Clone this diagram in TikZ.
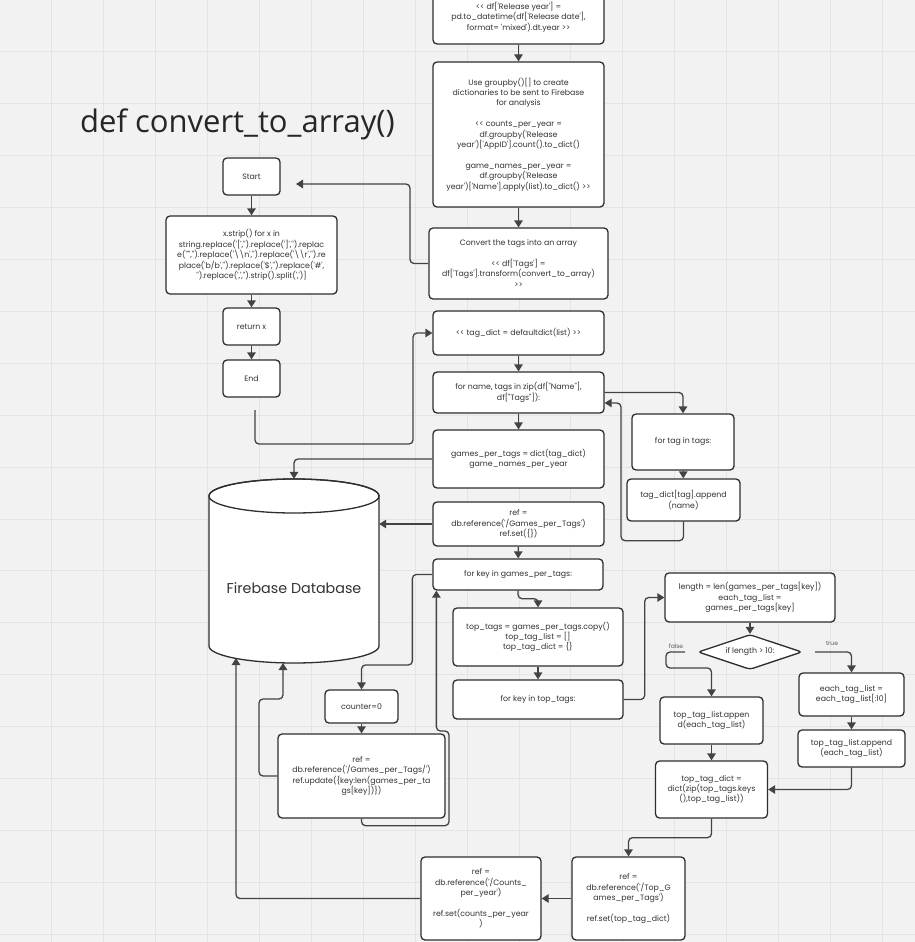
\documentclass[tikz,border=0pt]{standalone}
\usepackage{fontspec}
\newfontfamily\pop{Poppins}
\newfontfamily\osans{Open Sans}
\usetikzlibrary{arrows.meta,shapes.geometric}
\definecolor{bgc}{HTML}{F2F2F2}
\definecolor{gridc}{HTML}{E4E4E4}
\definecolor{ink}{HTML}{2E2E2E}
\definecolor{txt}{HTML}{333333}
\tikzset{
  box/.style={draw=ink, line width=1.3pt, fill=white, rounded corners=4pt, align=center,
    inner sep=2pt, text=txt, font=\pop\fontsize{7.8}{10.4}\selectfont},
  arr/.style={draw=ink!90, line width=1.3pt, rounded corners=4pt,
    -{Triangle[width=8.5pt,length=7pt]}},
  lbl/.style={text=txt!80, font=\pop\fontsize{6}{7}\selectfont, inner sep=0pt}
}
\begin{document}
\begin{tikzpicture}[x=1pt,y=-1pt]
\useasboundingbox (0,0) rectangle (915,942);
\clip (0,0) rectangle (915,942);
\fill[bgc] (0,0) rectangle (915,942);
\foreach \i in {1,...,17} \draw[gridc, line width=0.9pt] (\i*51.9,0) -- (\i*51.9,942);
\foreach \i in {1,...,18} \draw[gridc, line width=0.9pt] (0,\i*51.9) -- (915,\i*51.9);

% title
\node[anchor=base west, inner sep=0, text=black!85, font=\osans\fontsize{31}{34}\selectfont] (title) at (80,132) {def convert\_to\_array()};

% main column
\node[box, minimum width=171pt, minimum height=54pt] (b1) at (518.5,17) {<< df['Release year'] =\\pd.to\_datetime(df['Release date'],\\format= 'mixed').dt.year >>};
\node[box, minimum width=171pt, minimum height=145pt] (b2) at (518.5,134.5) {Use groupby()[] to create\\dictionaries to be sent to Firebase\\for analysis\\[10.4pt]<< counts\_per\_year =\\df.groupby('Release\\year')['AppID'].count().to\_dict()\\[10.4pt]game\_names\_per\_year =\\df.groupby('Release\\year')['Name'].apply(list).to\_dict() >>};
\node[box, minimum width=179pt, minimum height=71pt] (b3) at (518.5,263.5) {Convert the tags into an array\\[10.4pt]<< df['Tags'] =\\df['Tags'].transform(convert\_to\_array)\\>>};

% convert_to_array function
\node[box, minimum width=57pt, minimum height=37pt] (start) at (251.5,176.5) {Start};
\node[box, minimum width=171pt, minimum height=78pt] (strip) at (251.5,255) {x.strip() for x in\\string.replace('[','').replace(']','').replac\\e('"','').replace('\textbackslash\textbackslash n','').replace('\textbackslash\textbackslash r','').re\\place('b/b','').replace('\$','').replace('\#',\\'').replace(',','').strip().split(',')]};
\node[box, minimum width=57pt, minimum height=37pt] (ret) at (251.5,326.5) {return x};
\node[box, minimum width=57pt, minimum height=37pt] (endn) at (251.5,378.5) {End};

\node[box, minimum width=171pt, minimum height=44pt] (tagdict) at (518.5,333) {<< tag\_dict = defaultdict(list) >>};
\node[box, minimum width=171pt, minimum height=41pt] (forname) at (518.5,392.5) {for name, tags in zip(df["Name"],\\df["Tags"]):};
\node[box, minimum width=171pt, minimum height=58pt] (gpt) at (518.5,459) {games\_per\_tags = dict(tag\_dict)\\game\_names\_per\_year};
\node[box, minimum width=171pt, minimum height=44pt] (refset) at (518.5,524) {ref =\\db.reference('/Games\_per\_Tags')\\ref.set(\{\})};
\node[box, minimum width=102pt, minimum height=56pt] (fortag) at (683,442) {for tag in tags:};
\node[box, minimum width=113pt, minimum height=42pt] (append) at (683.5,500) {tag\_dict[tag].append\\(name)};

% database cylinder
\node[minimum width=170pt, minimum height=184pt, inner sep=0] (db) at (294,571) {};
\filldraw[fill=white, draw=ink, line width=1.3pt] (209,496) -- (209,646) arc[start angle=180, end angle=360, x radius=85, y radius=-17] -- (379,496) arc[start angle=0, end angle=180, x radius=85, y radius=-17] -- cycle;
\draw[ink, line width=1.3pt] (294,496) ellipse[x radius=85, y radius=17];
\node[text=txt, font=\pop\fontsize{14.3}{16}\selectfont] (dbtext) at (294,588) {Firebase Database};

\node[box, minimum width=170pt, minimum height=31pt] (forkey) at (518,574.5) {for key in games\_per\_tags:};
\node[box, minimum width=170pt, minimum height=58pt] (toptags) at (538,637) {top\_tags = games\_per\_tags.copy()\\top\_tag\_list = []\\top\_tag\_dict = \{\}};
\node[box, minimum width=170pt, minimum height=39pt] (forkeytop) at (538,699.5) {for key in top\_tags:};
\node[box, minimum width=73pt, minimum height=33pt] (counter) at (361.5,706.5) {counter=0};
\node[box, minimum width=167pt, minimum height=84pt] (update) at (361.5,776) {ref =\\db.reference('/Games\_per\_Tags/')\\ref.update(\{key:len(games\_per\_ta\\gs[key])\})};

% right branch
\node[box, minimum width=170pt, minimum height=49pt] (length) at (750,597.5) {length = len(games\_per\_tags[key])\\each\_tag\_list =\\games\_per\_tags[key]};
\node[diamond, draw=ink, line width=1.3pt, fill=white, rounded corners=3pt, aspect=3, inner sep=0pt,
  minimum width=104pt, minimum height=35pt, text=txt, font=\pop\fontsize{7.8}{10.4}\selectfont] (dia) at (750,652) {if length > 10:};
\node[box, minimum width=105pt, minimum height=43pt] (etl) at (851.5,694.5) {each\_tag\_list =\\each\_tag\_list[:10]};
\node[box, minimum width=107pt, minimum height=37pt] (tlaR) at (851.5,748.5) {top\_tag\_list.append\\(each\_tag\_list)};
\node[box, minimum width=103pt, minimum height=47pt] (tlaL) at (711.5,720.5) {top\_tag\_list.appen\\d(each\_tag\_list)};
\node[box, minimum width=112pt, minimum height=57pt] (ttd) at (711.5,789.5) {top\_tag\_dict =\\dict(zip(top\_tags.keys\\(),top\_tag\_list))};
\node[box, minimum width=113pt, minimum height=83pt] (refTop) at (628.5,898.5) {ref =\\db.reference('/Top\_G\\ames\_per\_Tags')\\[10.4pt]ref.set(top\_tag\_dict)};
\node[box, minimum width=120pt, minimum height=83pt] (refCounts) at (481,898.5) {ref =\\db.reference('/Counts\_\\per\_year')\\[10.4pt]ref.set(counts\_per\_year\\)};

\node[lbl] (lfalse) at (676,646) {false};
\node[lbl] (ltrue) at (832,643) {true};

% free-end coordinates
\coordinate (startIn) at (296,184);
\coordinate (endOut) at (255,410);
\coordinate (falseStart) at (685,652);
\coordinate (trueStart) at (815,652);
\coordinate (dbIn1) at (236,658);
\coordinate (dbIn2) at (283,663);

% connectors
\draw[arr] (b1) -- (b2);
\draw[arr] (b2) -- (b3);
\draw[arr] (b3.west) -- (410,263.5) |- (startIn);
\draw[arr] (start) -- (strip);
\draw[arr] (strip) -- (ret);
\draw[arr] (ret) -- (endn);
\draw[arr] (endOut) -- (255,444) -- (413,444) |- (tagdict.west);
\draw[arr] (tagdict) -- (forname);
\draw[arr] (forname) -- (gpt);
\draw[arr] (forname.east) -| (fortag.north);
\draw[arr] (fortag) -- (append);
\draw[arr] (append.south) -- ++(0,19) -| (621,403) -- ([yshift=-10.5pt]forname.east);
\draw[arr] (gpt.west) -| (db.north);
\draw[arr] (refset.west) -- (refset.west -| db.east);
\draw[arr] (refset) -- (forkey);
\draw[arr] (forkey.west) -- ++(-20,0) -- ++(0,90.5) -| (counter.north);
\draw[arr] (forkey.south) -- ++(0,8) -| (toptags.north);
\draw[arr] (toptags) -- (forkeytop);
\draw[arr] (forkeytop.east) -- ++(21,0) |- (length.west);
\draw[arr] (length) -- (dia);
\draw[arr] (falseStart) -- (666,652) -- (666,668) -| (tlaL.north);
\draw[arr] (trueStart) -| (etl.north);
\draw[arr] (etl) -- (tlaR);
\draw[arr] (tlaR.south) |- (ttd.east);
\draw[arr] (tlaL) -- (ttd);
\draw[arr] (ttd.south) -- ++(0,19) -| (refTop.north);
\draw[arr] (refTop) -- (refCounts);
\draw[arr] (refCounts.west) -| (dbIn1);
\draw[arr] (update.west) -- (259,776) -- (259,699) -| (dbIn2);
\draw[arr] (counter) -- (update);
\draw[arr] (update.south) -- ++(0,7) -| (449,731) -| ([xshift=4pt]forkey.south west);
\end{tikzpicture}
\end{document}
